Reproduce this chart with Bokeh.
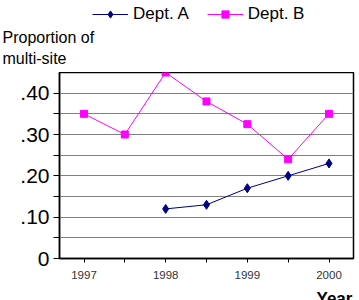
from bokeh.plotting import figure
from bokeh.layouts import column
from bokeh.models import (Range1d, FixedTicker, LinearAxis, Legend, LegendItem, Label, ColumnDataSource)
from bokeh.embed import file_html
from bokeh.resources import INLINE
import math

# ---- data ----
periods = ["1997", "1997.5", "1998", "1998.5", "1999", "1999.5", "2000"]
year_labels = ["1997", "", "1998", "", "1999", "", "2000"]
dept_a = [math.nan, math.nan, 0.12, 0.13, 0.17, 0.20, 0.23]
dept_b = [0.35, 0.30, 0.45, 0.38, 0.325, 0.24, 0.35]
y_ticks = [0.0, 0.1, 0.2, 0.3, 0.4]
y_minor = [0.05, 0.15, 0.25, 0.35]
y_tick_labels = ["0", ".10", ".20", ".30", ".40"]
series_names = ["Dept. A", "Dept. B"]

FONT = "Liberation Sans"
COL_A = "#000080"
COL_B = "#FF00FF"
W = 359
xs = list(range(len(periods)))


def bare(h):
    f = figure(width=W, height=h, output_backend="svg", toolbar_location=None,
               x_range=Range1d(0, W), y_range=Range1d(0, h),
               x_axis_location=None, y_axis_location=None,
               min_border_left=0, min_border_right=0, min_border_top=0, min_border_bottom=0)
    f.outline_line_color = None
    f.xgrid.visible = False
    f.ygrid.visible = False
    f.background_fill_color = "white"
    f.border_fill_color = "white"
    f.frame_align = False
    return f


# ---------- top strip: legend + y title ----------
top = bare(72)
dummy = ColumnDataSource(dict(x=[-100, -90], y=[-100, -90]))
ta_l = top.line("x", "y", source=dummy, line_color=COL_A, line_width=1)
ta_m = top.scatter("x", "y", source=dummy, marker="diamond", size=9, fill_color=COL_A, line_color=COL_A)
tb_l = top.line("x", "y", source=dummy, line_color=COL_B, line_width=1)
tb_m = top.scatter("x", "y", source=dummy, marker="square", size=7, fill_color=COL_B, line_color=COL_B)
legend = Legend(items=[LegendItem(label=series_names[0], renderers=[ta_l, ta_m]),
                       LegendItem(label=series_names[1], renderers=[tb_l, tb_m])],
                location=(92, 48), orientation="horizontal")
legend.label_text_font = FONT
legend.label_text_font_size = "17px"
legend.label_text_color = "black"
legend.glyph_width = 36
legend.glyph_height = 18
legend.label_standoff = 5
legend.spacing = 18
legend.padding = 0
legend.margin = 0
legend.border_line_color = None
legend.background_fill_alpha = 0
top.add_layout(legend, "center")
for txt, y in [("Proportion of", 44), ("multi-site", 23)]:
    top.add_layout(Label(x=2, y=y, text=txt, text_font=FONT, text_font_size="16px",
                         text_color="black", text_baseline="top"))

# ---------- main chart ----------
p = figure(width=W, height=214, output_backend="svg", toolbar_location=None,
           x_range=Range1d(-0.6, len(periods) - 1 + 0.6), y_range=Range1d(0, 0.45),
           x_axis_location=None, y_axis_location=None,
           min_border_left=59, min_border_right=6, min_border_top=0, min_border_bottom=28)
p.background_fill_color = "white"
p.border_fill_color = "white"
p.outline_line_color = "black"
p.outline_line_width = 1.5
p.frame_align = False

yax = LinearAxis(ticker=FixedTicker(ticks=y_ticks, minor_ticks=y_minor))
yax.major_label_overrides = {t: l for t, l in zip(y_ticks, y_tick_labels)}
yax.major_label_text_font = FONT
yax.major_label_text_font_size = "21px"
yax.major_label_text_color = "black"
yax.major_label_standoff = 4
yax.major_tick_out = 6
yax.major_tick_in = 0
yax.minor_tick_out = 6
yax.minor_tick_in = 0
yax.axis_line_color = "black"
yax.axis_line_width = 1.5
p.add_layout(yax, "left")

major_x = [i for i, l in enumerate(year_labels) if l]
minor_x = [i for i, l in enumerate(year_labels) if not l]
xax = LinearAxis(ticker=FixedTicker(ticks=major_x, minor_ticks=minor_x))
xax.major_label_overrides = {i: l for i, l in enumerate(year_labels) if l}
xax.major_label_text_font = FONT
xax.major_label_text_font_size = "11.5px"
xax.major_label_text_color = "#333333"
xax.major_label_standoff = 8
xax.major_tick_out = 4
xax.major_tick_in = 0
xax.minor_tick_out = 4
xax.minor_tick_in = 0
xax.axis_line_color = "black"
xax.axis_line_width = 1.5
p.add_layout(xax, "below")

p.xgrid.visible = False
p.ygrid.ticker = FixedTicker(ticks=y_ticks + y_minor)
p.ygrid.grid_line_color = "#808080"
p.ygrid.grid_line_width = 1

src = ColumnDataSource(dict(x=xs, a=dept_a, b=dept_b))
p.line("x", "a", source=src, line_color=COL_A, line_width=1)
p.scatter("x", "a", source=src, marker="diamond", size=9, fill_color=COL_A, line_color=COL_A)
p.line("x", "b", source=src, line_color=COL_B, line_width=1)
p.scatter("x", "b", source=src, marker="square", size=7, fill_color=COL_B, line_color=COL_B)

# ---------- bottom strip: x title ----------
bot = bare(14)
bot.add_layout(Label(x=316, y=12, text="Year", text_font=FONT, text_font_size="17px",
                     text_font_style="bold", text_color="black", text_baseline="top"))

layout = column(top, p, bot, spacing=0)
open("out.html", "w").write(file_html(layout, INLINE))
